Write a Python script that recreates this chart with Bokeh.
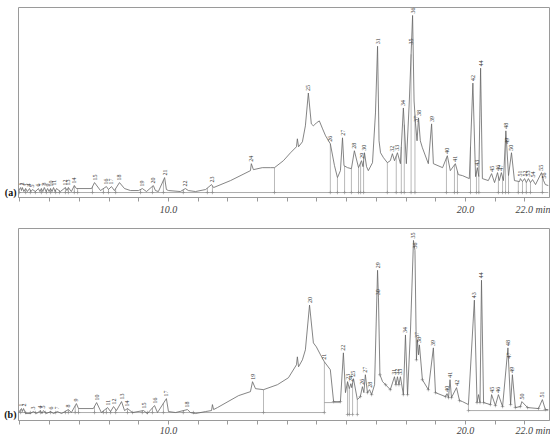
import numpy as np
from bokeh.plotting import figure
from bokeh.layouts import column
from bokeh.models import FixedTicker, LinearAxis, Range1d
from bokeh.embed import file_html
from bokeh.resources import INLINE
from bokeh.core.properties import value

# ---------------- panel (a) : retention time (min) / abundance ----------------
a_time = [4.95, 5.02, 5.05, 5.08, 5.13, 5.19, 5.25, 5.32, 5.37, 5.42, 5.52, 5.62, 5.67, 5.72, 5.77,
          5.82, 5.88, 5.93, 5.98, 6.03, 6.08, 6.13, 6.18, 6.23, 6.36, 6.53, 6.58, 6.63, 6.73, 6.83,
          6.90, 7.41, 7.51, 7.71, 7.91, 7.98, 8.08, 8.18, 8.35, 8.52, 8.72, 8.99, 9.12, 9.26, 9.49,
          9.56, 9.66, 9.87, 9.93, 10.00, 10.40, 10.57, 10.67, 10.91, 11.25, 11.45, 11.52, 12.09, 12.76,
          12.79, 12.86, 13.16, 13.43, 13.57, 13.87, 14.11, 14.31, 14.34, 14.38, 14.51, 14.61, 14.71,
          14.81, 14.88, 14.98, 15.08, 15.19, 15.29, 15.45, 15.59, 15.69, 15.79, 15.86, 15.91, 16.03,
          16.16, 16.26, 16.40, 16.50, 16.55, 16.60, 16.67, 16.73, 16.87, 16.97, 17.04, 17.09, 17.14,
          17.24, 17.37, 17.47, 17.54, 17.61, 17.71, 17.81, 17.91, 18.01, 18.11, 18.22, 18.27, 18.32,
          18.37, 18.42, 18.48, 18.55, 18.75, 18.86, 18.92, 19.23, 19.39, 19.49, 19.66, 19.76, 19.90,
          20.13, 20.25, 20.34, 20.40, 20.45, 20.51, 20.57, 20.77, 20.88, 20.98, 21.08, 21.14, 21.21,
          21.28, 21.36, 21.45, 21.55, 21.65, 21.82, 21.85, 21.92, 21.99, 22.05, 22.12, 22.19, 22.26,
          22.36, 22.56, 22.63, 22.69, 22.79]
a_abund = [2, 5, 2, 5, 1, 4, 1, 4, 1, 3, 1, 4, 1, 4, 1,
           5, 1, 4, 1, 4, 1, 5, 1, 4, 1, 5, 2, 5, 1, 7,
           4, 4, 10, 2, 6, 3, 6, 2, 10, 4, 2, 2, 4, 1, 7,
           2, 1, 15, 3, 2, 1, 4, 2, 1, 3, 8, 5, 12, 22,
           29, 23, 25, 25, 25, 32, 40, 46, 54, 46, 51, 67, 100,
           69, 67, 70, 72, 64, 57, 49, 27, 15, 22, 55, 27, 25,
           24, 42, 25, 32, 26, 40, 26, 22, 30, 80, 147, 52, 40,
           35, 30, 32, 39, 32, 40, 29, 85, 29, 92, 178, 92, 69,
           52, 75, 52, 45, 29, 69, 29, 25, 37, 22, 29, 18, 17,
           14, 110, 16, 25, 16, 125, 14, 12, 19, 10, 20, 12, 20,
           12, 62, 17, 40, 12, 11, 14, 11, 14, 10, 14, 10, 13,
           8, 20, 12, 8, 7]
a_peak_no = [str(i) for i in range(1, 57)]
a_peak_time = [5.02, 5.08, 5.19, 5.32, 5.42, 5.62, 5.72, 5.82, 5.93, 6.03, 6.13, 6.53, 6.63, 6.83,
               7.51, 7.91, 8.08, 8.35, 9.12, 9.49, 9.87, 10.57, 11.45, 12.79, 14.71, 15.45, 15.86,
               16.26, 16.50, 16.60, 17.04, 17.54, 17.71, 17.91, 18.18, 18.22, 18.32, 18.42, 18.86,
               19.39, 19.66, 20.25, 20.40, 20.51, 20.88, 21.08, 21.21, 21.36, 21.39, 21.55, 21.85,
               21.99, 22.12, 22.26, 22.56, 22.63]
a_drop_time = [4.98, 5.19, 5.35, 5.52, 5.72, 5.89, 6.03, 6.20, 6.33, 6.53, 6.63, 6.83, 6.94, 7.44,
               7.81, 7.98, 8.22, 9.06, 9.46, 9.83, 10.50, 11.31, 11.48, 13.57, 15.45, 15.69, 15.93,
               16.16, 16.40, 16.47, 16.57, 17.37, 17.67, 17.84, 17.94, 18.17, 18.30, 19.36, 19.63,
               19.73, 20.17, 20.37, 20.45, 21.11, 21.25, 21.35, 21.45, 21.78, 21.92, 22.05, 22.19,
               22.59]
a_base = [(4.95, 22.79, 0)]

# ---------------- panel (b) ----------------
b_time = [4.95, 5.05, 5.08, 5.12, 5.19, 5.35, 5.45, 5.56, 5.69, 5.74, 5.79, 5.89, 6.03, 6.13, 6.26,
          6.40, 6.63, 6.73, 6.90, 6.97, 7.47, 7.58, 7.74, 7.95, 8.05, 8.15, 8.25, 8.42, 8.52, 8.62,
          8.79, 9.16, 9.29, 9.53, 9.63, 9.93, 10.00, 10.24, 10.64, 10.74, 10.91, 11.25, 11.45, 11.48,
          11.52, 11.65, 12.36, 12.76, 12.83, 12.93, 13.20, 13.67, 14.04, 14.31, 14.34, 14.38, 14.51,
          14.61, 14.75, 14.88, 14.98, 15.12, 15.25, 15.45, 15.56, 15.79, 15.89, 15.96, 16.03, 16.09,
          16.14, 16.17, 16.23, 16.36, 16.46, 16.53, 16.58, 16.63, 16.70, 16.77, 16.84, 16.94, 17.04,
          17.07, 17.12, 17.21, 17.31, 17.47, 17.61, 17.66, 17.71, 17.76, 17.81, 17.91, 17.98, 18.05,
          18.15, 18.25, 18.30, 18.35, 18.38, 18.42, 18.45, 18.55, 18.75, 18.92, 18.99, 19.33, 19.38,
          19.43, 19.48, 19.53, 19.70, 19.80, 19.90, 20.10, 20.30, 20.39, 20.44, 20.49, 20.54, 20.61,
          20.84, 20.88, 21.01, 21.11, 21.25, 21.43, 21.52, 21.58, 21.68, 21.85, 21.90, 22.09, 22.46,
          22.59, 22.69, 22.79]
b_abund = [2, 6, 3, 6, 1, 1, 3, 1, 4, 1, 4, 1, 3, 1, 3,
           1, 5, 2, 11, 6, 6, 12, 2, 7, 3, 8, 4, 13, 4, 6,
           2, 4, 1, 9, 2, 16, 3, 2, 5, 2, 1, 3, 4, 10,
           5, 7, 19, 23, 33, 26, 25, 30, 37, 50, 58, 48, 55,
           65, 110, 72, 68, 60, 53, 45, 13, 13, 62, 22, 33, 26,
           31, 27, 36, 15, 18, 28, 22, 40, 22, 25, 20, 30, 145,
           118, 40, 33, 30, 25, 38, 30, 38, 30, 38, 20, 80, 20,
           85, 175, 165, 55, 75, 60, 70, 35, 25, 67, 22, 18, 21,
           17, 35, 17, 27, 14, 13, 10, 115, 12, 20, 12, 135, 12,
           10, 20, 9, 20, 8, 67, 10, 40, 7, 8, 13, 7, 6,
           15, 5, 5]
b_peak_no = [str(i) for i in range(1, 52)]
b_peak_time = [5.05, 5.12, 5.45, 5.69, 5.79, 6.03, 6.26, 6.63, 6.90, 7.58, 7.95, 8.15, 8.42, 8.62,
               9.16, 9.53, 9.93, 10.64, 12.83, 14.75, 15.25, 15.89, 16.03, 16.14, 16.23, 16.53,
               16.63, 16.77, 17.04, 17.07, 17.61, 17.71, 17.81, 17.98, 18.25, 18.30, 18.38, 18.45,
               18.92, 19.38, 19.48, 19.70, 20.30, 20.54, 20.88, 21.11, 21.45, 21.43, 21.58, 21.90,
               22.59]
b_drop_time = [5.02, 5.19, 5.35, 5.52, 5.69, 5.86, 6.03, 6.20, 6.53, 6.63, 6.86, 6.97, 7.51,
               7.81, 7.91, 8.05, 8.22, 8.62, 8.79, 9.12, 9.29, 9.46, 9.83, 10.50, 10.84, 13.20,
               15.25, 16.03, 16.09, 16.20, 16.36, 20.10]
b_drop_base = [2] * 27 + [0, 0, 0, 0, 4]
b_mark_time = [15.56, 15.79, 16.46, 16.70, 16.84, 17.12, 17.31, 17.47, 17.66, 17.76, 17.91, 18.05,
               18.35, 18.55, 18.75, 18.99, 19.33, 19.43, 19.53, 19.80, 20.39, 20.49, 20.61, 20.84,
               21.01, 21.25, 21.52, 21.68, 21.85, 22.09, 22.46, 22.69]
b_base = [(4.95, 15.25, 2), (15.25, 15.79, 12), (20.10, 22.79, 4)]

tick_minutes = list(range(5, 23))
label_ticks = [10, 20, 22.3]
label_text = ["10.0", "20.0", "22.0 min"]

TRACE = "#666666"
THIN = "#8a8a8a"
FRAME = "#9a9a9a"


def panel(tag, t, ab, pk_no, pk_t, drop_t, drop_base, base, marks, yr, height, top, standoff):
    p = figure(width=550, height=height, x_range=Range1d(4.95, 22.83), y_range=Range1d(*yr),
               output_backend="svg", toolbar_location=None, min_border_left=18,
               min_border_right=1, min_border_top=top, min_border_bottom=0)
    p.grid.visible = False
    p.outline_line_color = FRAME
    p.outline_line_width = 1

    # panel tag as the only label of the left axis, at the baseline
    ya = p.yaxis[0]
    ya.ticker = FixedTicker(ticks=[0])
    ya.major_label_overrides = {0: tag}
    ya.major_tick_in = 0
    ya.major_tick_out = 0
    ya.minor_tick_line_color = None
    ya.axis_line_color = None
    ya.major_label_standoff = 2
    ya.major_label_text_font = "Liberation Serif"
    ya.major_label_text_font_style = "bold"
    ya.major_label_text_font_size = "10px"
    ya.major_label_text_color = "#111111"

    # tick marks every minute (no text)
    ax = p.xaxis[0]
    ax.ticker = FixedTicker(ticks=tick_minutes)
    ax.major_label_overrides = {m: "" for m in tick_minutes}
    ax.major_label_text_font_size = "1px"
    ax.major_label_standoff = 0
    ax.minor_tick_line_color = None
    ax.major_tick_in = 0
    ax.major_tick_out = 4
    ax.axis_line_color = FRAME
    ax.major_tick_line_color = FRAME

    # time labels
    lx = LinearAxis(ticker=FixedTicker(ticks=label_ticks),
                    major_label_overrides=dict(zip(label_ticks, label_text)))
    lx.axis_line_color = None
    lx.major_tick_line_color = None
    lx.minor_tick_line_color = None
    lx.major_tick_in = 0
    lx.major_tick_out = 0
    lx.major_label_standoff = standoff
    lx.major_label_text_font = "Liberation Serif"
    lx.major_label_text_font_style = "italic"
    lx.major_label_text_font_size = "10px"
    lx.major_label_text_color = "#444444"
    p.add_layout(lx, "below")

    for (t0, t1, lv) in base:
        p.segment(x0=[t0], y0=[lv], x1=[t1], y1=[lv], line_color=THIN, line_width=0.7)
    tops = np.interp(drop_t, t, ab)
    p.segment(x0=drop_t, y0=drop_base, x1=drop_t, y1=tops, line_color=THIN, line_width=0.6)
    p.scatter(drop_t, drop_base, marker="cross", size=3.5, line_color=THIN, line_width=0.6)
    if marks:
        p.scatter(marks, np.interp(marks, t, ab), marker="cross", size=3.5,
                  line_color=THIN, line_width=0.6)
    p.line(t, ab, line_color=TRACE, line_width=0.8)
    ly = np.interp(pk_t, t, ab) + 2
    p.text(x=pk_t, y=ly, text=pk_no, angle=np.pi / 2, text_align="left",
           text_baseline="middle", text_font_size="6px", text_font=value("Liberation Serif"),
           text_color="#333333")
    return p


pa = panel("(a)", a_time, a_abund, a_peak_no, a_peak_time, a_drop_time, [0] * len(a_drop_time),
           a_base, None, (-5, 186), 217, 7, 2)
pb = panel("(b)", b_time, b_abund, b_peak_no, b_peak_time, b_drop_time, b_drop_base,
           b_base, b_mark_time, (-6, 187), 221, 11, 0)

layout = column(pa, pb)
open("out.html", "w").write(file_html(layout, INLINE))
